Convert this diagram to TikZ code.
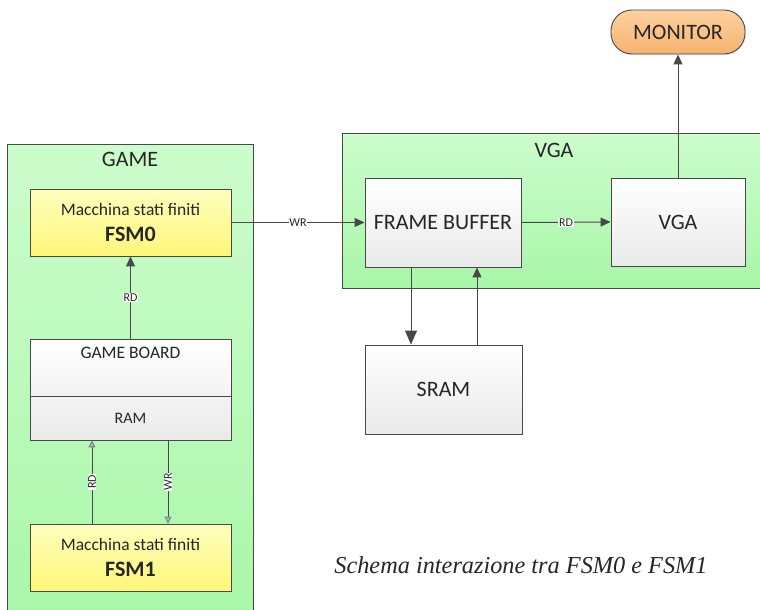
\documentclass[tikz,border=0pt]{standalone}
\usepackage{fontspec}
\setmainfont{Carlito}
\newfontfamily\captionfont{Liberation Serif}
\usetikzlibrary{arrows.meta,shadows,calc}

\definecolor{linegray}{RGB}{72,72,72}
\definecolor{txtgray}{RGB}{38,38,38}
\definecolor{greentop}{RGB}{204,253,204}
\definecolor{greenbot}{RGB}{168,246,168}
\definecolor{yellowtop}{RGB}{255,255,190}
\definecolor{yellowbot}{RGB}{255,246,120}
\definecolor{graytop}{RGB}{255,255,255}
\definecolor{graybot}{RGB}{234,234,234}
\definecolor{orangetop}{RGB}{253,210,158}
\definecolor{orangebot}{RGB}{246,178,112}

\tikzset{
  x=1pt, y=-1pt,
  every node/.style={text=txtgray},
  container/.style={draw=linegray, line width=0.9pt, top color=greentop, bottom color=greenbot,
    inner sep=0pt},
  block/.style={draw=linegray, line width=0.9pt, inner sep=0pt, align=center,
    drop shadow={shadow xshift=1.2pt, shadow yshift=-1.2pt, opacity=0.18}},
  grayblock/.style={block, top color=graytop, bottom color=graybot},
  fsmblock/.style={block, top color=yellowtop, bottom color=yellowbot},
  link/.style={draw=linegray, line width=1pt, -{Triangle[length=10pt,width=9pt]}},
  biglink/.style={draw=linegray, line width=1pt, -{Triangle[length=14pt,width=12pt]}},
  softlink/.style={draw=linegray, line width=1pt,
    -{Triangle[length=7pt,width=7pt,fill=gray!55,color=gray]}},
  tag/.style={fill=white, inner sep=0.6pt, font=\fontsize{12}{12}\selectfont, text=txtgray},
  title/.style={font=\fontsize{22}{22}\selectfont},
  big/.style={font=\fontsize{22}{22}\selectfont},
}

\begin{document}
\begin{tikzpicture}
\clip (0,0) rectangle (760,610);
\fill[white] (0,0) rectangle (760,610);

% subsystem containers
\node[container, minimum width=246pt, minimum height=500pt] (game) at (130,394) {};
\node[title] (gametitle) at (130,159) {GAME};
\node[container, minimum width=440pt, minimum height=155pt] (vgabox) at (562,210.5) {};
\node[title] (vgatitle) at (554,150) {VGA};

% GAME blocks
\node[fsmblock, minimum width=201pt, minimum height=67pt] (fsm0) at (130.5,222.5) {};
\node (fsm0a) at (130.5,209) {\fontsize{17.5}{17.5}\selectfont Macchina stati finiti};
\node (fsm0b) at (130.5,234) {\fontsize{22}{22}\selectfont\bfseries FSM0};

\node[grayblock, minimum width=201pt, minimum height=101pt] (board) at (130.5,389.5) {};
\draw[draw=linegray, line width=0.9pt] (board.west |- 0,396) coordinate (divl) -- (board.east |- 0,396) coordinate (divr);
\node (boardtxt) at (130.5,353) {\fontsize{17.5}{17.5}\selectfont GAME BOARD};
\node (ramtxt) at (130.5,418) {\fontsize{16}{16}\selectfont RAM};

\node[fsmblock, minimum width=201pt, minimum height=67pt] (fsm1) at (130.5,557.5) {};
\node (fsm1a) at (130.5,544) {\fontsize{17.5}{17.5}\selectfont Macchina stati finiti};
\node (fsm1b) at (130.5,569) {\fontsize{22}{22}\selectfont\bfseries FSM1};

% VGA blocks
\node[grayblock, big, minimum width=156pt, minimum height=89pt] (fb) at (443,222.5) {FRAME BUFFER};
\node[grayblock, big, minimum width=134pt, minimum height=88pt] (vga) at (678,222) {VGA};
\node[block, big, top color=orangetop, bottom color=orangebot, rounded corners=21pt,
      minimum width=134pt, minimum height=44pt] (monitor) at (678,32) {MONITOR};
\node[grayblock, big, minimum width=157pt, minimum height=89pt] (sram) at (443.5,389.5) {SRAM};

% connections
\draw[link] (fsm0.east) -- node[tag] {WR} (fb.west);
\draw[link] (board.north) -- node[tag] {RD} (fsm0.south);
\draw[softlink] ([xshift=-38.5pt]fsm1.north) -- node[tag, rotate=90] {RD} ([xshift=-38.5pt]fsm1.north |- board.south);
\draw[softlink] ([xshift=37.5pt]fsm1.north |- board.south) -- node[tag, rotate=90] {WR} ([xshift=37.5pt]fsm1.north);
\draw[link] (fb.east) -- node[tag] {RD} (vga.west);
\draw[link] (vga.north) -- (monitor.south);
\draw[biglink] ([xshift=-32pt]fb.south) -- ([xshift=-32pt]fb.south |- sram.north);
\draw[link] ([xshift=34pt]fb.south |- sram.north) -- ([xshift=34pt]fb.south);

% caption
\node (caption) at (521,565) {\captionfont\itshape\fontsize{24.3}{24.3}\selectfont Schema interazione tra FSM0 e FSM1};
\end{tikzpicture}
\end{document}
